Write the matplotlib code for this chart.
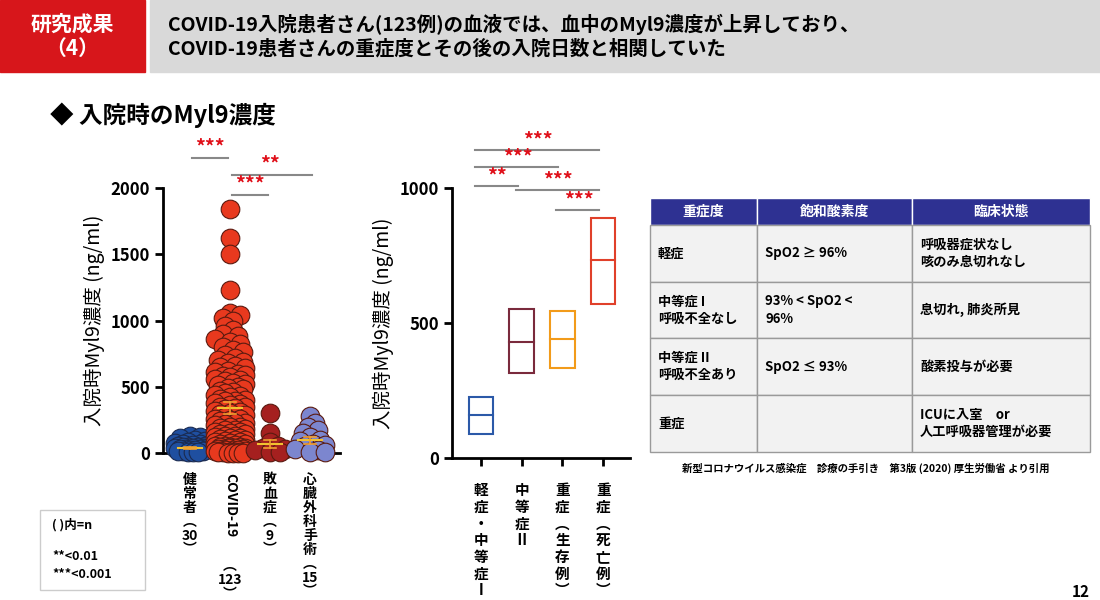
import matplotlib
matplotlib.use("Agg")
import matplotlib.pyplot as plt
import numpy as np
from matplotlib.patches import Rectangle

plt.rcParams['font.family'] = ['Noto Sans CJK JP', 'DejaVu Sans']

# ---------------- data ----------------
left_groups = ["健常者", "COVID-19", "敗血症", "心臓外科手術"]
left_n = ["30", "123", "9", "15"]
left_colors = ["#1F4FA0", "#E8391E", "#A5201F", "#7C86CF"]
healthy = [5, 8, 10, 12, 15, 18, 20, 22, 25, 28, 30, 32, 35, 38, 40, 42, 45, 48, 50, 55,
           60, 65, 70, 75, 80, 90, 100, 110, 120, 130]
covid = [1840, 1620, 1500, 1230, 1060, 1040, 1020, 1000, 960, 930, 900, 880, 860, 840, 820,
         800, 780, 760, 740, 720, 700, 690, 680, 660, 650, 640, 620, 610, 600, 590, 580, 570,
         560, 550, 540, 530, 520, 510, 500, 490, 480, 470, 460, 450, 440, 430, 420, 410, 400,
         395, 390, 380, 370, 360, 350, 345, 340, 330, 320, 310, 300, 295, 290, 280, 270, 260,
         255, 250, 240, 230, 225, 220, 210, 200, 195, 190, 180, 175, 170, 160, 155, 150, 145,
         140, 130, 125, 120, 115, 110, 105, 100, 95, 90, 85, 80, 75, 70, 65, 60, 55, 50, 48,
         45, 42, 40, 38, 35, 32, 30, 28, 25, 22, 20, 18, 15, 12, 10, 8, 6, 5, 4, 3, 2, 1, 0]
sepsis = [300, 150, 80, 50, 40, 30, 20, 10, 5]
cardiac = [280, 230, 200, 170, 150, 120, 100, 90, 70, 60, 50, 30, 20, 10, 5]
left_values = [healthy, covid, sepsis, cardiac]
left_center = [35, 340, 65, 95]
left_err = [8, 45, 30, 25]

right_groups = ["軽\n症\n・\n中\n等\n症\nⅠ", "中\n等\n症\nⅡ", "重\n症\n︵\n生\n存\n例\n︶", "重\n症\n︵\n死\n亡\n例\n︶"]
right_colors = ["#2B59A8", "#7A2A3C", "#F29B1A", "#E0402A"]
box_low = [90, 315, 335, 570]
box_med = [160, 430, 440, 735]
box_high = [225, 550, 545, 890]

left_sig = [(0, 1, 2226, "***"), (1, 3, 2098, "**"), (1, 2, 1947, "***")]
right_sig = [(0, 3, 1141, "***"), (0, 2, 1078, "***"), (0, 1, 1007, "**"),
             (1, 3, 993, "***"), (2, 3, 919, "***")]

table_header = ["重症度", "飽和酸素度", "臨床状態"]
table_rows = [["軽症", "SpO2 ≥ 96%", "呼吸器症状なし\n咳のみ息切れなし"],
              ["中等症 I\n呼吸不全なし", "93% < SpO2 <\n96%", "息切れ, 肺炎所見"],
              ["中等症 II\n呼吸不全あり", "SpO2 ≤ 93%", "酸素投与が必要"],
              ["重症", "", "ICUに入室　or\n人工呼吸器管理が必要"]]

W, H = 1100, 600
fig = plt.figure(figsize=(11, 6), dpi=100)
bg = fig.add_axes([0, 0, 1, 1]); bg.set_xlim(0, W); bg.set_ylim(H, 0); bg.axis('off')

# header
bg.add_patch(Rectangle((0, 0), 145, 72, color="#D7161B"))
bg.add_patch(Rectangle((150, 0), 950, 72, color="#D9D9D9"))
bg.text(72, 36, "研究成果\n（4）", color="white", fontsize=15, fontweight="bold",
        ha="center", va="center", linespacing=1.2)
bg.text(168, 36, "COVID-19入院患者さん(123例)の血液では、血中のMyl9濃度が上昇しており、\nCOVID-19患者さんの重症度とその後の入院日数と相関していた",
        fontsize=14, fontweight="bold", ha="left", va="center", linespacing=1.3)
bg.text(50, 115, "◆ 入院時のMyl9濃度", fontsize=17, fontweight="bold", ha="left", va="center")

# legend box bottom-left
bg.add_patch(Rectangle((40, 510), 105, 80, fill=False, ec="#CCCCCC", lw=1))
bg.text(52, 525, "( )内=n", fontsize=9, fontweight="bold", va="center")
bg.text(52, 557, "**<0.01", fontsize=9, fontweight="bold", va="center")
bg.text(52, 575, "***<0.001", fontsize=9, fontweight="bold", va="center")
bg.text(1090, 592, "12", fontsize=11, fontweight="bold", ha="right", va="center")

def px_axes(x0, y0, x1, y1):
    return fig.add_axes([x0 / W, 1 - y1 / H, (x1 - x0) / W, (y1 - y0) / H])

# ---------------- left chart ----------------
axL = px_axes(163, 188, 340, 453)
axL.set_ylim(0, 2000)
axL.set_xlim(-0.675, 3.75)
for s in ["top", "right"]:
    axL.spines[s].set_visible(False)
axL.spines["left"].set_linewidth(2); axL.spines["bottom"].set_linewidth(2)
axL.set_yticks([0, 500, 1000, 1500, 2000])
axL.tick_params(axis='y', width=2, length=6, labelsize=12)
for t in axL.get_yticklabels():
    t.set_fontweight("bold")
axL.set_xticks(range(4)); axL.set_xticklabels([])
axL.tick_params(axis='x', width=2, length=6)
axL.set_ylabel("入院時Myl9濃度 (ng/ml)", fontsize=14, labelpad=4)

ppx = 40.0      # pixels per x unit
ppy = 265 / 2000.0
mind = 8.0
maxoff = 15.0
for gi, (vals, col) in enumerate(zip(left_values, left_colors)):
    placed = []
    for v in sorted(vals, reverse=True):
        yp = v * ppy
        best, bestd = 0.0, -1
        for c in np.arange(0, maxoff + 0.1, 2.5):
            for cc in ([c] if c == 0 else [c, -c]):
                d = min([np.hypot(cc - px, yp - py) for px, py in placed] + [99])
                if d >= mind:
                    best, bestd = cc, 99
                    break
                if d > bestd:
                    best, bestd = cc, d
            if bestd == 99:
                break
        placed.append((best, yp))
    xs = [gi + p[0] / ppx for p in placed]
    ys = [p[1] / ppy for p in placed]
    axL.scatter(xs, ys, s=180, color=col, edgecolor="#5A1A10" if gi else "#1A2A50",
                lw=0.8, zorder=3, clip_on=False)
    m, e = left_center[gi], left_err[gi]
    axL.plot([gi - 0.3, gi + 0.3], [m, m], color="#F2C230", lw=1.5, zorder=4)
    axL.plot([gi, gi], [m - e, m + e], color="#F2A030", lw=1.2, zorder=4)
    for yy in (m - e, m + e):
        axL.plot([gi - 0.15, gi + 0.15], [yy, yy], color="#F2A030", lw=1.2, zorder=4)

for a, b, y, s in left_sig:
    axL.plot([a + 0.05, b - 0.05 + (0.1 if b == 3 else 0)], [y, y], color="#888888", lw=1.5, clip_on=False)
    axL.text((a + b) / 2, y + 10, s, color="#E0101A", fontsize=14, fontweight="bold",
             ha="center", va="bottom", clip_on=False)

for gi, (g, n) in enumerate(zip(left_groups, left_n)):
    if gi == 1:
        axL.text(gi, -150, "COVID-19", rotation=-90, fontsize=10, fontweight="bold",
                 ha="center", va="top")
        axL.text(gi, -800, "︵\n123\n︶", fontsize=10, fontweight="bold", ha="center", va="top",
                 linespacing=1.0)
    else:
        axL.text(gi, -150, "\n".join(g) + "\n︵\n" + n + "\n︶", fontsize=10, fontweight="bold",
                 ha="center", va="top", linespacing=1.0)

# ---------------- right chart ----------------
axR = px_axes(452, 188, 630, 458)
axR.set_ylim(0, 1000)
axR.set_xlim(-0.71, 3.66)
for s in ["top", "right"]:
    axR.spines[s].set_visible(False)
axR.spines["left"].set_linewidth(2); axR.spines["bottom"].set_linewidth(2)
axR.set_yticks([0, 500, 1000])
axR.tick_params(axis='y', width=2, length=6, labelsize=12)
for t in axR.get_yticklabels():
    t.set_fontweight("bold")
axR.set_xticks(range(4)); axR.set_xticklabels([])
axR.tick_params(axis='x', width=2, length=6)
axR.set_ylabel("入院時Myl9濃度 (ng/ml)", fontsize=14, labelpad=4)
for gi in range(4):
    axR.add_patch(Rectangle((gi - 0.3, box_low[gi]), 0.6, box_high[gi] - box_low[gi],
                            fill=False, ec=right_colors[gi], lw=1.5))
    axR.plot([gi - 0.3, gi + 0.3], [box_med[gi]] * 2, color=right_colors[gi], lw=1.5)
    axR.text(gi, -90, right_groups[gi], fontsize=10.5, fontweight="bold", ha="center", va="top",
             linespacing=1.05)
for a, b, y, s in right_sig:
    axR.plot([a - 0.15, b - 0.1], [y, y], color="#888888", lw=1.5, clip_on=False)
    axR.text((a + b) / 2 - 0.1, y + 3, s, color="#E0101A", fontsize=14, fontweight="bold",
             ha="center", va="bottom", clip_on=False)

# ---------------- table ----------------
cols = [650, 757, 912, 1090]
rows = [198, 225, 282, 338, 395, 452]
for ci in range(3):
    bg.add_patch(Rectangle((cols[ci], rows[0]), cols[ci + 1] - cols[ci], rows[1] - rows[0],
                           fc="#2E3192", ec="white", lw=1))
    bg.text((cols[ci] + cols[ci + 1]) / 2, (rows[0] + rows[1]) / 2, table_header[ci],
            color="white", fontsize=10, fontweight="bold", ha="center", va="center")
for ri, row in enumerate(table_rows):
    for ci in range(3):
        bg.add_patch(Rectangle((cols[ci], rows[ri + 1]), cols[ci + 1] - cols[ci],
                               rows[ri + 2] - rows[ri + 1], fc="#F2F2F2", ec="#9A9A9A", lw=1))
        bg.text(cols[ci] + 8, (rows[ri + 1] + rows[ri + 2]) / 2, row[ci], fontsize=9.5,
                fontweight="bold", ha="left", va="center", linespacing=1.3)
bg.text(682, 468, "新型コロナウイルス感染症　診療の手引き　第3版 (2020) 厚生労働省 より引用",
        fontsize=7.5, fontweight="bold", ha="left", va="center")

fig.savefig("out.png", dpi=100)
